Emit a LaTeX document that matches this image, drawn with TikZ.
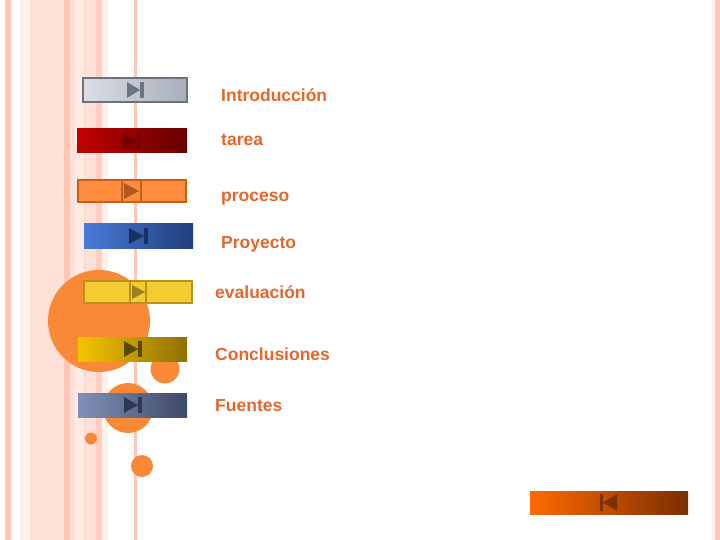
\documentclass[tikz,border=0pt]{standalone}
\usepackage{fontspec}
\setmainfont{Liberation Sans}
\definecolor{pinkA}{HTML}{FFC6B6}
\definecolor{pinkB}{HTML}{FFE0D7}
\definecolor{pinkC}{HTML}{FFF1EC}
\definecolor{blobcol}{HTML}{F98837}
\definecolor{txtcol}{HTML}{E8652A}
\definecolor{introL}{RGB}{218,222,228}
\definecolor{introR}{RGB}{168,174,186}
\definecolor{introline}{RGB}{106,114,128}
\definecolor{introicon}{RGB}{108,116,130}
\definecolor{procfill}{RGB}{255,140,60}
\definecolor{procline}{RGB}{192,98,30}
\definecolor{procicon}{RGB}{176,88,32}
\definecolor{proyL}{RGB}{74,122,216}
\definecolor{proyR}{RGB}{31,63,122}
\definecolor{proyicon}{RGB}{26,48,96}
\definecolor{evalfill}{RGB}{242,204,48}
\definecolor{evalline}{RGB}{184,146,28}
\definecolor{evalicon}{RGB}{154,128,32}
\definecolor{conclL}{RGB}{245,196,0}
\definecolor{conclR}{RGB}{142,112,0}
\definecolor{conclicon}{RGB}{90,72,0}
\definecolor{fuenL}{RGB}{128,144,184}
\definecolor{fuenR}{RGB}{62,74,100}
\definecolor{fuenicon}{RGB}{46,56,80}
\definecolor{backL}{RGB}{255,106,0}
\definecolor{backR}{RGB}{122,46,0}
\definecolor{backicon}{RGB}{122,48,0}
\tikzset{
  menutext/.style={anchor=base west, inner sep=0pt, text=txtcol,
    font=\fontsize{17.5}{20}\selectfont\bfseries},
  blob/.style={fill=blobcol},
}
\begin{document}
\begin{tikzpicture}[x=1pt,y=-1pt]
    \useasboundingbox (0,0) rectangle (720,540);
    \fill[white] (0,0) rectangle (720,540);

    % stripes
    \fill[pinkA] (5,0) rectangle (11,540);
    \fill[pinkC] (20,0) rectangle (30,540);
    \fill[pinkB] (30,0) rectangle (64,540);
    \fill[pinkA] (64,0) rectangle (70,540);
    \fill[pinkB] (70,0) rectangle (75,540);
    \fill[pinkC!60!pinkB] (75,0) rectangle (85,540);
    \draw[pinkA!80!gray!60] (84.5,0) -- (84.5,540);
    \fill[pinkB] (85,0) rectangle (96,540);
    \fill[pinkA!70!pinkB] (96,0) rectangle (102,540);
    \fill[pinkC] (102,0) rectangle (108,540);
    \fill[pinkA] (134,0) rectangle (137,540);
    \fill[pinkC] (712,0) rectangle (715,540);
    \fill[pinkA] (715,0) rectangle (720,540);

    % circles
    \fill[blob] (99,321) circle (51pt);
    \fill[blob] (165,369) circle (14.5pt);
    \fill[blob] (128,408) circle (25pt);
    \fill[blob] (91,438.5) circle (6pt);
    \fill[blob] (142,466) circle (11pt);

    % Introduccion
    \shade[left color=introL, right color=introR] (83,78) rectangle (187,102);
    \draw[line width=1.5pt, introline] (83,78) rectangle (187,102);
    \fill[introicon] (127,82) -- (140,90) -- (127,98) -- cycle;
    \fill[introicon] (140,82) rectangle (144,98);

    % tarea
    \shade[left color=red!75!black, right color=red!40!black] (77,129) rectangle (187,153);
    \fill[red!45!black] (123,133) -- (137,141) -- (123,149) -- cycle;
    \fill[red!45!black] (137,133) rectangle (141,149);

    % proceso
    \draw[line width=2pt, fill=procfill, draw=procline] (78,180) rectangle (186,202);
    \draw[line width=2pt, procline] (122,180) -- (122,202) (141,180) -- (141,202);
    \fill[procicon] (124,183) -- (139,191) -- (124,199) -- cycle;

    % Proyecto
    \shade[left color=proyL, right color=proyR] (84,224) rectangle (193,248);
    \fill[proyicon] (129,228) -- (144,236) -- (129,244) -- cycle;
    \fill[proyicon] (144,228) rectangle (148,244);

    % evaluacion
    \draw[line width=2pt, fill=evalfill, draw=evalline] (84,281) rectangle (192,303);
    \draw[line width=2pt, evalline] (130,281) -- (130,303) (146,281) -- (146,303);
    \fill[evalicon] (132,285) -- (145,292) -- (132,299) -- cycle;

    % Conclusiones
    \shade[left color=conclL, right color=conclR] (78,337) rectangle (187,361);
    \fill[conclicon] (124,341) -- (138,349) -- (124,357) -- cycle;
    \fill[conclicon] (138,341) rectangle (142,357);

    % Fuentes
    \shade[left color=fuenL, right color=fuenR] (78,393) rectangle (187,417);
    \fill[fuenicon] (124,397) -- (138,405) -- (124,413) -- cycle;
    \fill[fuenicon] (138,397) rectangle (142,413);

    % back
    \shade[left color=backL, right color=backR] (530,491) rectangle (688,514);
    \fill[backicon] (600,494) rectangle (603,511);
    \fill[backicon] (617,494) -- (603,502.5) -- (617,511) -- cycle;

    % labels
    \node[menutext] (intro) at (221,102) {Introducción};
    \node[menutext] (tarea) at (221,146) {tarea};
    \node[menutext] (proceso) at (221,202) {proceso};
    \node[menutext] (proyecto) at (221,248) {Proyecto};
    \node[menutext] (evalua) at (215,298) {evaluación};
    \node[menutext] (concl) at (215,360) {Conclusiones};
    \node[menutext] (fuentes) at (215,411) {Fuentes};
\end{tikzpicture}
\end{document}
